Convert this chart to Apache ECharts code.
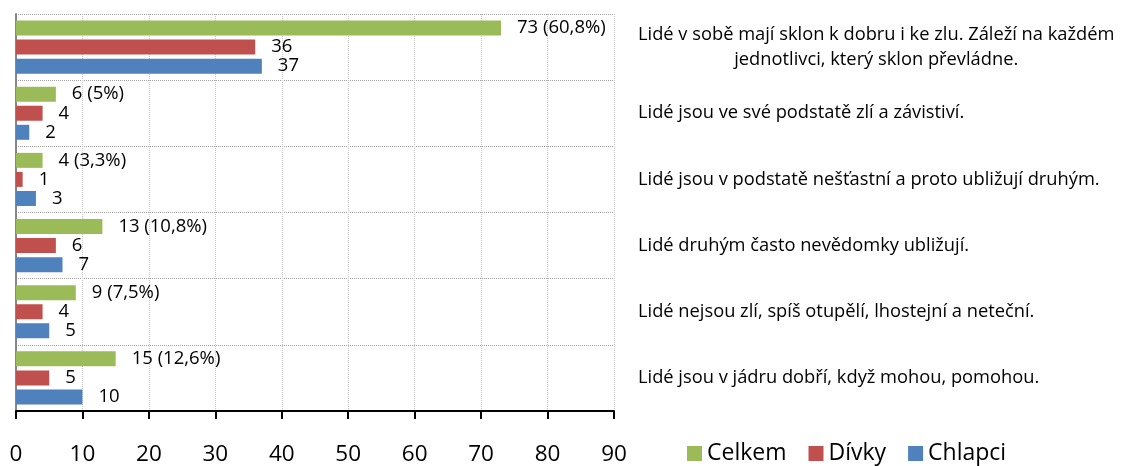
<!DOCTYPE html>
<html>
<head>
<meta charset="utf-8">
<script src="https://cdn.jsdelivr.net/npm/echarts@6/dist/echarts.min.js"></script>
<style>
html,body{margin:0;padding:0;background:#fff;}
#chart{width:1121px;height:466px;}
</style>
</head>
<body>
<div id="chart"></div>
<script>
const categories = [
  "Lidé v sobě mají sklon k dobru i ke zlu. Záleží na každém\njednotlivci, který sklon převládne.",
  "Lidé jsou ve své podstatě zlí a závistiví.",
  "Lidé jsou v podstatě nešťastní a proto ubližují druhým.",
  "Lidé druhým často nevědomky ubližují.",
  "Lidé nejsou zlí, spíš otupělí, lhostejní a neteční.",
  "Lidé jsou v jádru dobří, když mohou, pomohou."
];
const celkem = [73, 6, 4, 13, 9, 15];
const celkemPct = ["60,8%", "5%", "3,3%", "10,8%", "7,5%", "12,6%"];
const divky = [36, 4, 1, 6, 4, 5];
const chlapci = [37, 2, 3, 7, 5, 10];
const seriesNames = ["Celkem", "Dívky", "Chlapci"];
const colors = ["#9BBB59", "#C0504D", "#4F81BD"];

const FONT = "Open Sans";
const chart = echarts.init(document.getElementById('chart'));

const baseLabel = {
  show: true, position: 'right', distance: 16,
  fontFamily: FONT, fontSize: 18.5, color: '#000'
};

chart.setOption({
  animation: false,
  color: colors,
  grid: { left: 16, right: 507, top: 14, bottom: 54, containLabel: false },
  legend: {
    data: seriesNames,
    left: 682, top: 437,
    icon: 'rect', itemWidth: 15, itemHeight: 15, itemGap: 22,
    textStyle: { fontFamily: FONT, fontSize: 23, color: '#000' }
  },
  xAxis: {
    type: 'value', min: 0, max: 90, interval: 10,
    axisLine: { show: true, lineStyle: { color: '#000', width: 2 } },
    axisTick: { show: true, length: 8, lineStyle: { color: '#000', width: 2 } },
    axisLabel: { margin: 32, fontFamily: FONT, fontSize: 22.5, color: '#000' },
    splitLine: { show: true, lineStyle: { type: 'dotted', color: '#c8c8c8', width: 1 } }
  },
  yAxis: [
    {
      type: 'category', data: categories, inverse: true,
      axisLine: { show: true, lineStyle: { color: '#868686', width: 2 } },
      axisTick: { show: false },
      axisLabel: { show: false },
      splitLine: { show: true, lineStyle: { type: 'dotted', color: '#a0a0a0', width: 1 } }
    },
    {
      type: 'category', data: categories, inverse: true, position: 'right',
      axisLine: { show: false }, axisTick: { show: false }, splitLine: { show: false },
      axisLabel: {
        margin: 24, fontFamily: FONT, fontSize: 18.3, color: '#000',
        formatter: v => v.split('\n').map(l => '{c|' + l + '}').join('\n'),
        rich: { c: { align: 'center', fontFamily: FONT, fontSize: 18.3, color: '#000', lineHeight: 25 } }
      }
    }
  ],
  series: [
    {
      name: seriesNames[0], type: 'bar', data: celkem, barWidth: 15, barGap: '27%',
      label: Object.assign({}, baseLabel, { formatter: p => p.value + ' (' + celkemPct[p.dataIndex] + ')' })
    },
    { name: seriesNames[1], type: 'bar', data: divky, barWidth: 15, barGap: '27%', label: baseLabel },
    { name: seriesNames[2], type: 'bar', data: chlapci, barWidth: 15, barGap: '27%', label: baseLabel }
  ]
});
</script>
</body>
</html>
